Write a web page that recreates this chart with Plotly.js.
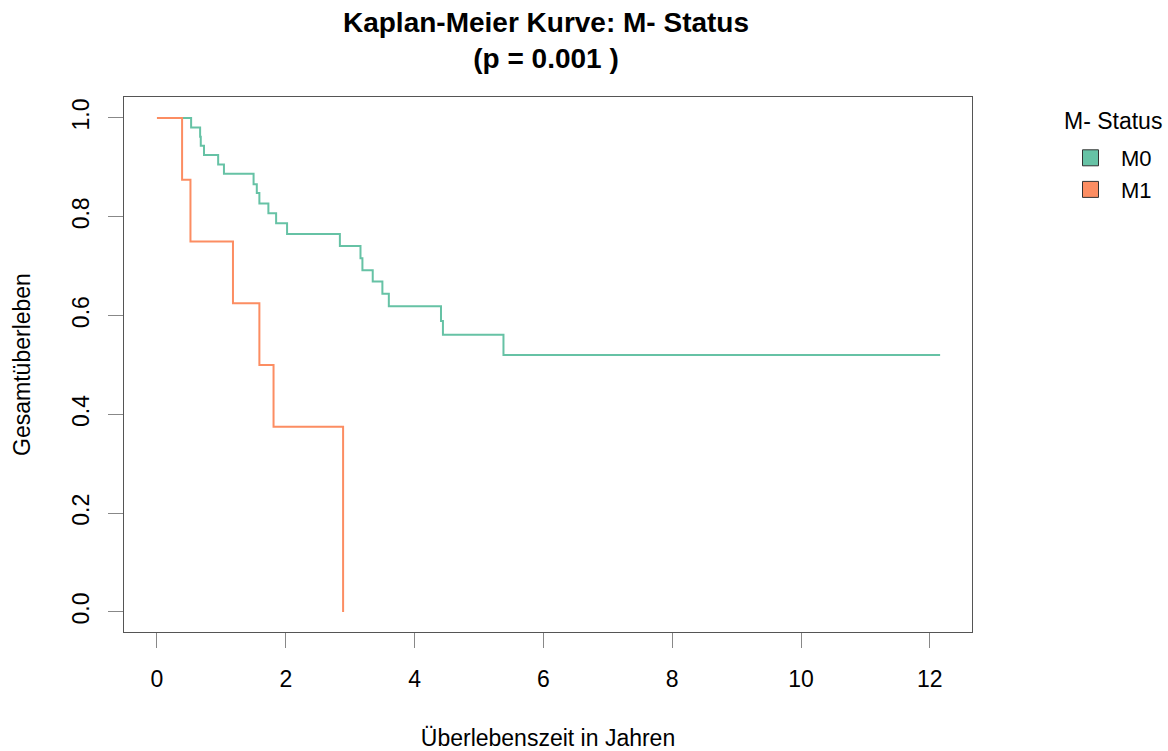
<!DOCTYPE html>
<html>
<head>
<meta charset="utf-8">
<script src="https://cdn.plot.ly/plotly-3.0.1.min.js"></script>
<style>body{margin:0;padding:0;background:#fff}#chart{width:1168px;height:751px}</style>
</head>
<body>
<div id="chart"></div>
<script>
// Kaplan-Meier step data (time in years, survival after each step)
const m0Times = [0, 0.53, 0.67, 0.68, 0.73, 0.95, 1.04, 1.50, 1.55, 1.59, 1.73, 1.85, 2.02, 2.84, 3.16, 3.19, 3.35, 3.50, 3.60, 4.41, 4.44, 5.38, 12.16];
const m0Surv  = [1.0, 0.981, 0.962, 0.944, 0.925, 0.906, 0.887, 0.866, 0.848, 0.827, 0.807, 0.787, 0.765, 0.741, 0.716, 0.692, 0.669, 0.644, 0.619, 0.589, 0.561, 0.520, 0.520];
const m1Times = [0, 0.39, 0.52, 1.18, 1.59, 1.81, 2.89];
const m1Surv  = [1.0, 0.875, 0.75, 0.625, 0.5, 0.375, 0.0];
const groupNames = ["M0", "M1"];
const groupColors = ["#66C2A5", "#FC8D62"];
const legendTitle = "M- Status";
const xTicks = [0, 2, 4, 6, 8, 10, 12];
const yTicks = [0.0, 0.2, 0.4, 0.6, 0.8, 1.0];
const yTickText = ["0.0", "0.2", "0.4", "0.6", "0.8", "1.0"];

const font = "Liberation Sans, Arial, Helvetica, sans-serif";

const traces = [
  {x: m0Times, y: m0Surv, mode: "lines", line: {shape: "hv", color: groupColors[0], width: 2}, showlegend: false, hoverinfo: "skip"},
  {x: m1Times, y: m1Surv, mode: "lines", line: {shape: "hv", color: groupColors[1], width: 2}, showlegend: false, hoverinfo: "skip"},
  {x: [null], y: [null], mode: "markers", name: groupNames[0], marker: {symbol: "square", size: 19, color: groupColors[0], line: {color: "#333", width: 1}}},
  {x: [null], y: [null], mode: "markers", name: groupNames[1], marker: {symbol: "square", size: 19, color: groupColors[1], line: {color: "#333", width: 1}}}
];

const axisCommon = {
  showgrid: false, zeroline: false,
  showline: true, mirror: true, linecolor: "#555", linewidth: 1,
  ticks: "outside", ticklen: 15, tickcolor: "#888", tickwidth: 1,
  tickfont: {family: font, size: 23, color: "#000"}
};

const layout = {
  width: 1168, height: 751,
  margin: {l: 124, r: 196, t: 97, b: 119},
  paper_bgcolor: "#fff", plot_bgcolor: "#fff",
  font: {family: font, color: "#000"},
  title: {
    text: "<b>Kaplan-Meier Kurve: M- Status<br>(p = 0.001 )</b>",
    font: {family: font, size: 28, color: "#000"},
    x: 546 / 1168, xanchor: "center", xref: "container",
    y: 0.958, yanchor: "top", yref: "container"
  },
  xaxis: Object.assign({}, axisCommon, {
    range: [-0.512, 12.655],
    tickvals: xTicks,
    ticklabelstandoff: 11,
    title: {text: "Überlebenszeit in Jahren", font: {family: font, size: 23}, standoff: 43}
  }),
  yaxis: Object.assign({}, axisCommon, {
    range: [-0.0405, 1.0425],
    tickvals: yTicks, ticktext: yTickText,
    tickangle: -90,
    ticklabelstandoff: 10,
    title: {text: "Gesamtüberleben", font: {family: font, size: 23}, standoff: 30}
  }),
  showlegend: true,
  legend: {
    xref: "container", yref: "container",
    x: 1060 / 1168, xanchor: "left", y: 1 - 137 / 751, yanchor: "top",
    font: {family: font, size: 22, color: "#000"},
    bgcolor: "rgba(0,0,0,0)", borderwidth: 0,
    itemwidth: 51
  },
  annotations: [{
    text: legendTitle, xref: "paper", yref: "paper",
    x: 1.106, y: 0.955, xanchor: "left", yanchor: "middle",
    showarrow: false, font: {family: font, size: 23, color: "#000"}
  }]
};

Plotly.newPlot("chart", traces, layout, {displayModeBar: false, staticPlot: true});
</script>
</body>
</html>
